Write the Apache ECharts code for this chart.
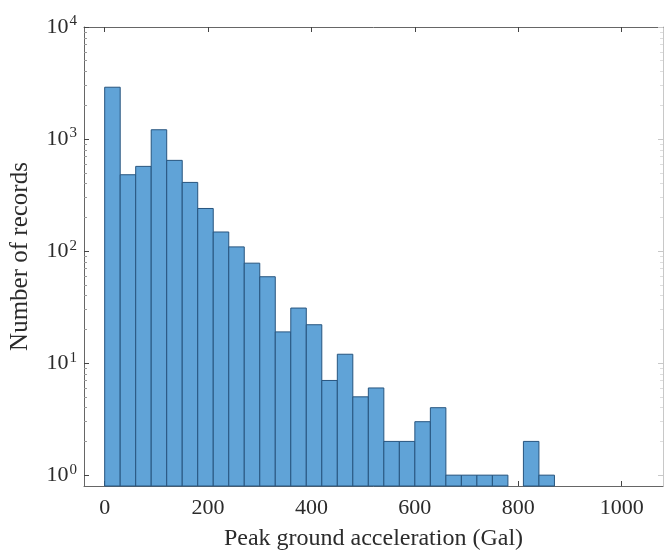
<!DOCTYPE html>
<html>
<head>
<meta charset="utf-8">
<script src="https://cdn.jsdelivr.net/npm/echarts@6/dist/echarts.min.js"></script>
<style>
  html, body { margin: 0; padding: 0; background: #fff; }
  #chart { width: 665px; height: 556px; }
</style>
</head>
<body>
<div id="chart"></div>
<script>
// histogram bins, 30 Gal wide
const binEdges = [0, 30, 60, 90, 120, 150, 180, 210, 240, 270, 300, 330, 360, 390, 420,
  450, 480, 510, 540, 570, 600, 630, 660, 690, 720, 750, 780, 810, 840, 870]
const counts = [2900, 480, 570, 1210, 645, 410, 240, 148, 109, 78, 59, 19, 31, 22, 7,
  12, 5, 6, 2, 2, 3, 4, 1, 1, 1, 1, 0, 2, 1]
const xTicks = [0, 200, 400, 600, 800, 1000]
const yTicks = [1, 10, 100, 1000, 10000]
const yMinorTicks = [2, 3, 4, 5, 6, 7, 8, 9, 20, 30, 40, 50, 60, 70, 80, 90,
  200, 300, 400, 500, 600, 700, 800, 900, 2000, 3000, 4000, 5000, 6000, 7000, 8000, 9000]

const xMin = -40
const xMax = 1080
const yMin = 0.8
const yMax = 10000

const font = "'Liberation Serif', 'Times New Roman', serif"
const axisColor = '#666'
const textColor = '#2b2b2b'

const chart = echarts.init(document.getElementById('chart'))

function powLabel(v) {
  const e = Math.round(Math.log10(v))
  if (Math.abs(Math.pow(10, e) - v) > 1e-6) return ''
  return '{b|10}{s|' + e + '}'
}

const option = {
  animation: false,
  grid: {
    left: 84,
    top: 27,
    right: 2,
    bottom: 68
  },
  xAxis: [
    {
      type: 'value',
      position: 'bottom',
      min: xMin,
      max: xMax,
      axisLine: { show: true, onZero: false, lineStyle: { color: axisColor, width: 1 } },
      axisTick: { show: true, inside: true, length: 5, customValues: xTicks, lineStyle: { color: '#444' } },
      axisLabel: {
        customValues: xTicks,
        formatter: (v) => String(v),
        fontFamily: font,
        fontSize: 22,
        color: textColor,
        margin: 11
      },
      splitLine: { show: false },
      name: 'Peak ground acceleration (Gal)',
      nameLocation: 'middle',
      nameGap: 41,
      nameTextStyle: { fontFamily: font, fontSize: 24, color: textColor }
    },
    {
      type: 'value',
      position: 'top',
      min: xMin,
      max: xMax,
      axisLine: { show: true, onZero: false, lineStyle: { color: axisColor, width: 1 } },
      axisTick: { show: true, inside: true, length: 5, customValues: xTicks, lineStyle: { color: '#444' } },
      axisLabel: { show: false },
      splitLine: { show: false }
    }
  ],
  yAxis: [
    {
      type: 'log',
      logBase: 10,
      position: 'left',
      min: yMin,
      max: yMax,
      axisLine: { show: true, onZero: false, lineStyle: { color: axisColor, width: 1 } },
      axisTick: { show: true, inside: true, length: 5, customValues: yTicks, lineStyle: { color: '#444' } },
      axisLabel: {
        customValues: yTicks,
        formatter: powLabel,
        margin: 7,
        fontFamily: font,
        color: textColor,
        rich: {
          b: { fontFamily: font, fontSize: 22, color: textColor },
          s: { fontFamily: font, fontSize: 15, color: textColor, padding: [0, 0, 11, 1] }
        }
      },
      splitLine: { show: false },
      name: 'Number of records',
      nameLocation: 'middle',
      nameRotate: 90,
      nameGap: 51,
      nameTextStyle: { fontFamily: font, fontSize: 25, color: textColor }
    },
    {
      type: 'log',
      logBase: 10,
      position: 'right',
      min: yMin,
      max: yMax,
      axisLine: { show: true, onZero: false, lineStyle: { color: '#c8c8c8', width: 1 } },
      axisTick: { show: true, inside: true, length: 5, customValues: yTicks, lineStyle: { color: '#c8c8c8' } },
      axisLabel: { show: false },
      splitLine: { show: false }
    },
    {
      type: 'log',
      logBase: 10,
      position: 'left',
      min: yMin,
      max: yMax,
      axisLine: { show: false, onZero: false },
      axisTick: { show: true, inside: true, length: 3, customValues: yMinorTicks, lineStyle: { color: '#999' } },
      axisLabel: { show: false },
      splitLine: { show: false }
    },
    {
      type: 'log',
      logBase: 10,
      position: 'right',
      min: yMin,
      max: yMax,
      axisLine: { show: false, onZero: false },
      axisTick: { show: true, inside: true, length: 3, customValues: yMinorTicks, lineStyle: { color: '#ddd' } },
      axisLabel: { show: false },
      splitLine: { show: false }
    }
  ],
  series: [
    {
      type: 'custom',
      xAxisIndex: 0,
      yAxisIndex: 0,
      data: counts.map((c, i) => [binEdges[i], binEdges[i + 1], c]),
      encode: { x: [0, 1], y: 2 },
      renderItem(params, api) {
        const c = api.value(2)
        if (!c) return null
        const p0 = api.coord([api.value(0), c])
        const p1 = api.coord([api.value(1), yMin])
        return {
          type: 'rect',
          shape: { x: p0[0], y: p0[1], width: p1[0] - p0[0], height: p1[1] - p0[1] },
          style: { fill: '#60a3d7', stroke: '#27557f', lineWidth: 1 }
        }
      }
    }
  ]
}

chart.setOption(option)
</script>
</body>
</html>
